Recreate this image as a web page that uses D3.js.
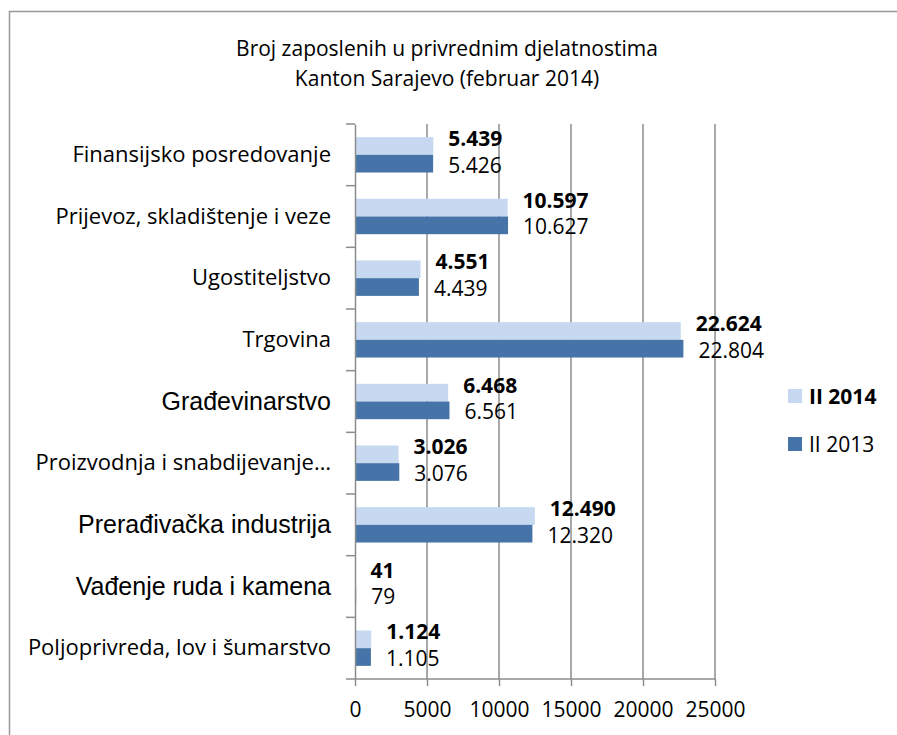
<!DOCTYPE html>
<html>
<head>
<meta charset="utf-8">
<script src="https://cdn.jsdelivr.net/npm/d3@7"></script>
<style>
  body { margin: 0; background: #fff; }
  text { font-family: "Open Sans", sans-serif; fill: #000; }
</style>
</head>
<body>
<div id="chart"></div>
<script>
// data (top to bottom as shown)
var categories = ["Finansijsko posredovanje", "Prijevoz, skladištenje i veze", "Ugostiteljstvo",
  "Trgovina", "Građevinarstvo", "Proizvodnja i snabdijevanje…", "Prerađivačka industrija",
  "Vađenje ruda i kamena", "Poljoprivreda, lov i šumarstvo"];
var series = ["II 2014", "II 2013"];
var values2014 = [5439, 10597, 4551, 22624, 6468, 3026, 12490, 41, 1124];
var values2013 = [5426, 10627, 4439, 22804, 6561, 3076, 12320, 79, 1105];
var xTicks = [0, 5000, 10000, 15000, 20000, 25000];
var titleLines = ["Broj zaposlenih u privrednim djelatnostima", "Kanton Sarajevo (februar 2014)"];

// these labels were typed in a different font in the original
var arialLabels = ["Građevinarstvo", "Prerađivačka industrija", "Vađenje ruda i kamena"];

var width = 897, height = 735;
var colors = { "II 2014": "#c6d9f0", "II 2013": "#4674a8" };

var svg = d3.select("#chart").append("svg")
  .attr("width", width)
  .attr("height", height);

// outer frame (only top and left edges are visible)
svg.append("path")
  .attr("d", "M9.5," + height + "V11.5H" + width)
  .attr("fill", "none")
  .attr("stroke", "#999")
  .attr("stroke-width", 1.5);

// title
svg.append("g").selectAll("text")
  .data(titleLines)
  .enter().append("text")
    .attr("x", 447)
    .attr("y", function(d, i) { return 56 + i * 30; })
    .attr("text-anchor", "middle")
    .style("font-size", "21px")
    .text(function(d) { return d; });

var margin = { left: 355, top: 124, right: 182, bottom: 56 };
var plotW = width - margin.left - margin.right;
var plotH = height - margin.top - margin.bottom;

var x = d3.scaleLinear().domain([0, 25000]).range([0, plotW]);
var y = d3.scaleBand().domain(categories).range([0, plotH])
  .paddingInner(0.426).paddingOuter(0.213);
var ySub = d3.scaleBand().domain(series).range([0, y.bandwidth()]);

var g = svg.append("g").attr("transform", "translate(" + margin.left + "," + margin.top + ")");

// vertical gridlines
g.append("g").selectAll("line")
  .data(xTicks.slice(1))
  .enter().append("line")
    .attr("x1", function(d) { return x(d); })
    .attr("x2", function(d) { return x(d); })
    .attr("y1", 0)
    .attr("y2", plotH)
    .attr("stroke", "#8c8c8c")
    .attr("stroke-width", 1.5);

var rows = categories.map(function(c, i) {
  return { cat: c, vals: [{ s: "II 2014", v: values2014[i] }, { s: "II 2013", v: values2013[i] }] };
});

var groups = g.append("g").selectAll("g")
  .data(rows)
  .enter().append("g")
    .attr("transform", function(d) { return "translate(0," + y(d.cat) + ")"; });

groups.selectAll("rect")
  .data(function(d) { return d.vals; })
  .enter().append("rect")
    .attr("x", 0)
    .attr("y", function(d) { return ySub(d.s); })
    .attr("width", function(d) { return x(d.v); })
    .attr("height", ySub.bandwidth())
    .attr("fill", function(d) { return colors[d.s]; });

var fmt = d3.formatLocale({ decimal: ",", thousands: ".", grouping: [3], currency: ["", ""] }).format(",d");

groups.selectAll("text")
  .data(function(d) { return d.vals; })
  .enter().append("text")
    .attr("x", function(d) { return x(d.v) + 15; })
    .attr("y", function(d) {
      return ySub(d.s) + ySub.bandwidth() / 2 + (d.s === "II 2014" ? -8 : 1);
    })
    .attr("dominant-baseline", "central")
    .style("font-size", "21px")
    .style("font-weight", function(d) { return d.s === "II 2014" ? "bold" : "normal"; })
    .text(function(d) { return fmt(d.v); });

// category axis
var yAxis = g.append("g")
  .call(d3.axisLeft(y).tickSize(0).tickPadding(24));
yAxis.select(".domain").attr("stroke", "#8c8c8c").attr("stroke-width", 1.5);
yAxis.selectAll("text")
  .style("font-size", function(d) { return arialLabels.indexOf(d) >= 0 ? "25px" : "22px"; })
  .style("font-family", function(d) {
    return arialLabels.indexOf(d) >= 0 ? "'Liberation Sans', Arial, sans-serif" : "'Open Sans', sans-serif";
  });

// category tick marks on the boundaries between bands
g.append("g").selectAll("line")
  .data(d3.range(categories.length + 1))
  .enter().append("line")
    .attr("x1", -9)
    .attr("x2", 0)
    .attr("y1", function(i) { return i * y.step(); })
    .attr("y2", function(i) { return i * y.step(); })
    .attr("stroke", "#8c8c8c")
    .attr("stroke-width", 1.5);

// value axis
var xAxis = g.append("g")
  .attr("transform", "translate(0," + plotH + ")")
  .call(d3.axisBottom(x).tickValues(xTicks).tickSize(7).tickPadding(16).tickFormat(d3.format("d")));
xAxis.select(".domain").attr("stroke", "#8c8c8c").attr("stroke-width", 1.5)
  .attr("d", "M0,0H" + plotW);
xAxis.selectAll(".tick line").attr("stroke", "#8c8c8c").attr("stroke-width", 1.5);
xAxis.selectAll("text")
  .style("font-size", "21px")
  .style("font-family", "'Open Sans', sans-serif");

// legend
var legend = svg.append("g").selectAll("g")
  .data(series)
  .enter().append("g")
    .attr("transform", function(d, i) { return "translate(788," + (389 + i * 48) + ")"; });
legend.append("rect")
  .attr("width", 14)
  .attr("height", 14)
  .attr("fill", function(d) { return colors[d]; });
legend.append("text")
  .attr("x", 21)
  .attr("y", 7)
  .attr("dominant-baseline", "central")
  .style("font-size", "21px")
  .style("font-weight", function(d, i) { return i === 0 ? "bold" : "normal"; })
  .text(function(d) { return d; });
</script>
</body>
</html>
